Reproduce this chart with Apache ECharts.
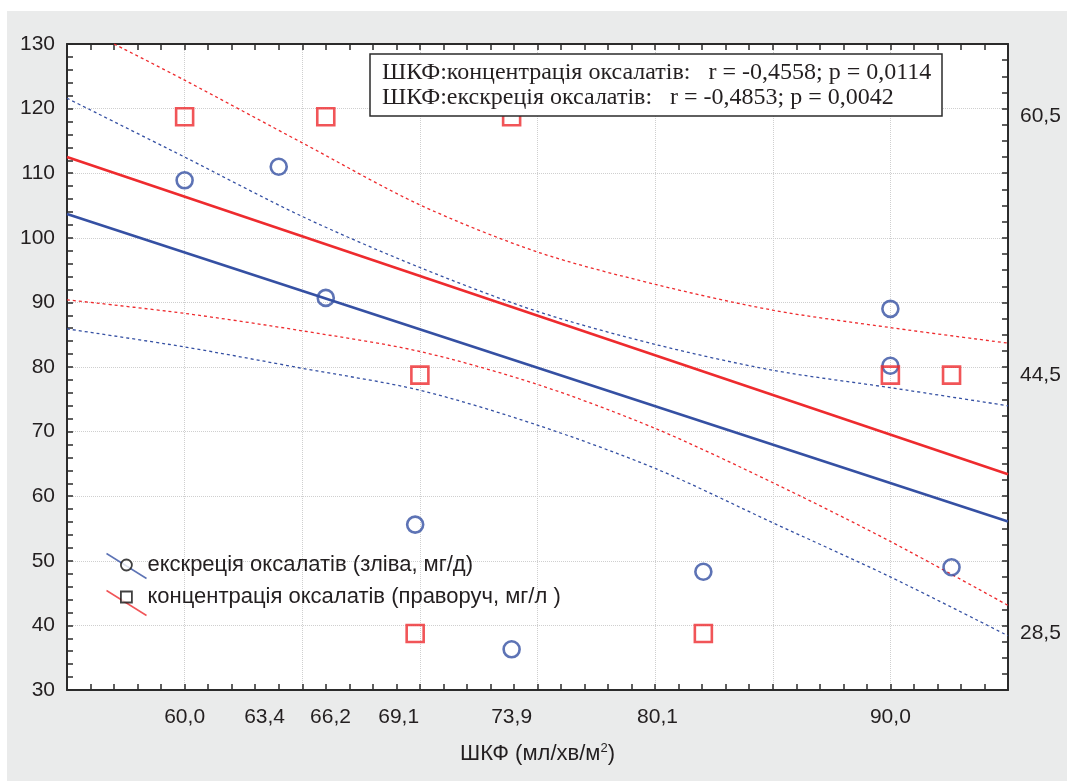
<!DOCTYPE html>
<html>
<head>
<meta charset="utf-8">
<script src="https://cdn.jsdelivr.net/npm/echarts@6/dist/echarts.min.js"></script>
<style>
  html, body { margin: 0; padding: 0; background: #ffffff; }
  #panel { position: absolute; left: 7px; top: 11px; width: 1060px; height: 770px; background: #eaebeb; }
  #chart { position: absolute; left: 0; top: 0; width: 1067px; height: 781px; }
</style>
</head>
<body>
<div id="panel"></div>
<div id="chart"></div>
<script>
// ---- data ----
const xTickValues = [60.0, 63.4, 66.2, 69.1, 73.9, 80.1, 90.0];
const rightTickValues = [28.5, 44.5, 60.5];

const excName = 'екскреція оксалатів (зліва, мг/д)';
const concName = 'концентрація оксалатів (праворуч, мг/л )';

// excretion (left axis, circles)
const excX = [60.0, 64.0, 66.0, 69.8, 73.9, 82.05, 90.0, 90.0, 92.6];
const excY = [108.9, 111.0, 90.7, 55.6, 36.3, 48.3, 89.0, 80.2, 49.0];
// concentration (right axis, squares)
const concX = [60.0, 66.0, 73.9, 70.0, 90.0, 92.6, 69.8, 82.05];
const concY = [60.5, 60.5, 60.5, 44.5, 44.5, 44.5, 28.5, 28.5];

// regression lines
const fitX = [55, 95];
const excFit = [103.7, 56.1];
const concFit = [58.0, 38.36];

// confidence bands
const bandX = [55, 60, 65, 70, 75, 80, 85, 90, 95];
const excUpper = [121.6, 112.5, 103.3, 95.4, 88.6, 83.5, 79.5, 76.8, 74.0];
const excLower = [85.9, 83.1, 79.8, 76.4, 71.0, 64.3, 55.9, 47.5, 38.4];
const concUpperX = [57.0, 60, 65, 70, 75, 80, 85, 90, 95];
const concUpper = [65.0, 62.76, 58.88, 55.04, 52.12, 50.12, 48.52, 47.44, 46.48];
const concLower = [49.16, 48.32, 47.24, 45.96, 43.92, 41.2, 37.84, 34.2, 30.24];

const statLines = [
  'ШКФ:концентрація оксалатів:   r = -0,4558; p = 0,0114',
  'ШКФ:екскреція оксалатів:   r = -0,4853; p = 0,0042'
];

// ---- chart ----
const BLUE = '#3550a3';
const RED = '#ee2b2e';
const INK = '#231f20';
const SANS = 'Liberation Sans, Arial, sans-serif';
const SERIF = 'Liberation Serif, Times New Roman, serif';
const zip = (xs, ys) => xs.map((x, i) => [x, ys[i]]);
const comma = v => (Math.round(v * 10) / 10).toFixed(1).replace('.', ',');

const chart = echarts.init(document.getElementById('chart'), null, { renderer: 'canvas' });

const axisLine = { show: true, onZero: false, lineStyle: { color: '#2b2b2b', width: 2 } };
const tick = { show: true, inside: true, length: 6, lineStyle: { color: '#2b2b2b', width: 1.5 } };
const minorTick = { show: true, splitNumber: 5, length: 6, lineStyle: { color: '#2b2b2b', width: 1.5 } };
const split = { show: true, lineStyle: { color: '#cfcfcf', type: 'dotted', width: 1 } };

chart.setOption({
  backgroundColor: 'transparent',
  animation: false,
  title: {
    text: statLines.join('\n'),
    left: 370, top: 54,
    padding: [6, 11, 6, 12],
    backgroundColor: '#ffffff',
    borderColor: '#2b2b2b',
    borderWidth: 1.5,
    textStyle: { fontFamily: SERIF, fontSize: 24, fontWeight: 'normal', color: INK, lineHeight: 25 },
    z: 10
  },
  grid: { left: 67, top: 44, right: 59, bottom: 91, show: true, backgroundColor: '#ffffff', borderWidth: 0 },
  legend: [
    {
      data: [
        { name: excName, icon: 'path://M0,0L40,25', itemStyle: { color: 'none', borderColor: BLUE, borderWidth: 1.5 } },
        { name: concName, icon: 'path://M0,0L40,25', itemStyle: { color: 'none', borderColor: RED, borderWidth: 1.5 } }
      ],
      orient: 'vertical', left: 104, top: 551, padding: 0, itemWidth: 40, itemHeight: 25, itemGap: 7,
      formatter: () => '', selectedMode: false, z: 8
    },
    {
      data: [
        { name: excName, icon: 'circle', itemStyle: { color: '#ffffff', borderColor: '#111', borderWidth: 1.8 } },
        { name: concName, icon: 'path://M0,0L10,0L10,10L0,10Z', itemStyle: { color: '#ffffff', borderColor: '#111', borderWidth: 1.8 } }
      ],
      orient: 'vertical', left: 120, top: 554, padding: 0, itemWidth: 32, itemHeight: 11, itemGap: 10,
      symbolKeepAspect: true, selectedMode: false, z: 9,
      textStyle: { fontFamily: SANS, fontSize: 22, color: INK, lineHeight: 22 }
    }
  ],
  xAxis: [
    {
      type: 'value', position: 'bottom', min: 55, max: 95, interval: 5,
      axisLine, axisTick: tick, minorTick, splitLine: split,
      axisLabel: {
        customValues: xTickValues, formatter: v => comma(v),
        fontFamily: SANS, fontSize: 21, color: INK, margin: 17
      },
      name: 'ШКФ (мл/хв/м{sup|2})', nameLocation: 'middle', nameGap: 52,
      nameTextStyle: {
        fontFamily: SANS, fontSize: 22, color: INK,
        rich: { sup: { fontFamily: SANS, fontSize: 13, color: INK, verticalAlign: 'top', padding: [0, 0, 10, 0] } }
      }
    },
    {
      type: 'value', position: 'top', min: 55, max: 95, interval: 5,
      axisLine, axisTick: tick, minorTick, splitLine: { show: false }, axisLabel: { show: false }
    }
  ],
  yAxis: [
    {
      type: 'value', position: 'left', min: 30, max: 130, interval: 10,
      axisLine, axisTick: tick, minorTick, splitLine: split,
      axisLabel: { fontFamily: SANS, fontSize: 21, color: INK, margin: 12 }
    },
    {
      type: 'value', position: 'right', min: 25, max: 65, interval: 1,
      axisLine, axisTick: tick, minorTick: { show: false }, splitLine: { show: false },
      axisLabel: {
        customValues: rightTickValues, formatter: v => comma(v),
        fontFamily: SANS, fontSize: 21, color: INK, margin: 12
      }
    }
  ],
  series: [
    {
      name: excName + ' upper', type: 'line', xAxisIndex: 0, yAxisIndex: 0, data: zip(bandX, excUpper),
      smooth: 0.3, showSymbol: false, silent: true, clip: true,
      lineStyle: { color: BLUE, width: 1.3, type: [3, 3] }, z: 3
    },
    {
      name: excName + ' lower', type: 'line', xAxisIndex: 0, yAxisIndex: 0, data: zip(bandX, excLower),
      smooth: 0.3, showSymbol: false, silent: true, clip: true,
      lineStyle: { color: BLUE, width: 1.3, type: [3, 3] }, z: 3
    },
    {
      name: concName + ' upper', type: 'line', xAxisIndex: 0, yAxisIndex: 1, data: zip(concUpperX, concUpper),
      smooth: 0.3, showSymbol: false, silent: true, clip: true,
      lineStyle: { color: RED, width: 1.3, type: [3, 3] }, z: 3
    },
    {
      name: concName + ' lower', type: 'line', xAxisIndex: 0, yAxisIndex: 1, data: zip(bandX, concLower),
      smooth: 0.3, showSymbol: false, silent: true, clip: true,
      lineStyle: { color: RED, width: 1.3, type: [3, 3] }, z: 3
    },
    {
      name: excName + ' fit', type: 'line', xAxisIndex: 0, yAxisIndex: 0, data: zip(fitX, excFit),
      showSymbol: false, silent: true, lineStyle: { color: BLUE, width: 2.6 }, z: 4
    },
    {
      name: concName + ' fit', type: 'line', xAxisIndex: 0, yAxisIndex: 1, data: zip(fitX, concFit),
      showSymbol: false, silent: true, lineStyle: { color: RED, width: 2.6 }, z: 4
    },
    {
      name: excName, type: 'scatter', xAxisIndex: 0, yAxisIndex: 0, data: zip(excX, excY),
      symbol: 'circle', symbolSize: 16,
      itemStyle: { color: 'rgba(255,255,255,0)', borderColor: BLUE, borderWidth: 2.6 }, z: 5
    },
    {
      name: concName, type: 'scatter', xAxisIndex: 0, yAxisIndex: 1, data: zip(concX, concY),
      symbol: 'rect', symbolSize: 17,
      itemStyle: { color: 'rgba(255,255,255,0)', borderColor: RED, borderWidth: 2.6 }, z: 5
    }
  ]
});
</script>
</body>
</html>
